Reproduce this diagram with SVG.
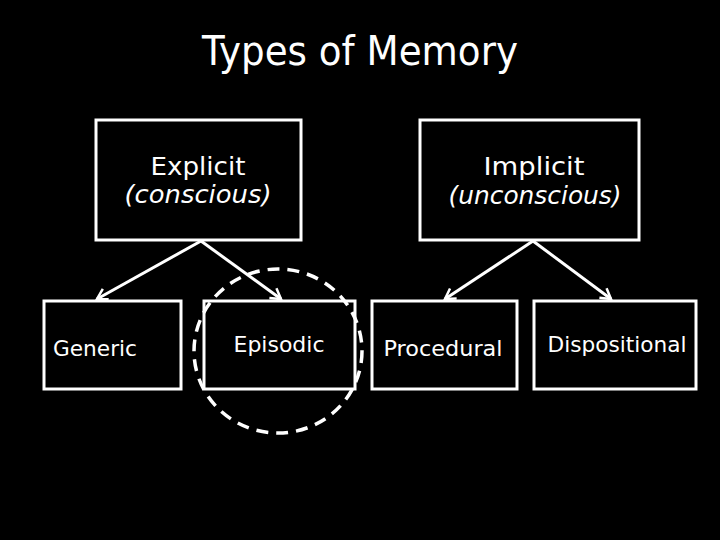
<svg xmlns="http://www.w3.org/2000/svg" width="720" height="540" viewBox="0 0 720 540">
<style>
.box{fill:#000;stroke:#fff;stroke-width:3}
.t{fill:#fff;font-family:"DejaVu Sans","Liberation Sans",sans-serif;text-anchor:middle}
.c{stroke:#fff;stroke-width:3;fill:none}
</style>
<defs>
<marker id="ah" markerUnits="userSpaceOnUse" markerWidth="16" markerHeight="16" refX="12" refY="8" orient="auto">
<path d="M2,2 L12,8 L2,14" fill="none" stroke="#fff" stroke-width="2.5"/>
</marker>
</defs>
<rect width="720" height="540" fill="#000"/>
<text class="t" x="360" y="65" font-size="40" textLength="316" lengthAdjust="spacingAndGlyphs">Types of Memory</text>
<g id="explicit">
<rect class="box" x="96" y="120" width="205" height="120"/>
<text class="t" x="198" y="175" font-size="25" textLength="95" lengthAdjust="spacingAndGlyphs">Explicit</text>
<text class="t" x="198" y="203" font-size="25" font-style="italic" textLength="147" lengthAdjust="spacingAndGlyphs">(conscious)</text>
</g>
<g id="implicit">
<rect class="box" x="420" y="120" width="219" height="120"/>
<text class="t" x="534" y="175" font-size="25" textLength="101" lengthAdjust="spacingAndGlyphs">Implicit</text>
<text class="t" x="535" y="204" font-size="25" font-style="italic" textLength="173" lengthAdjust="spacingAndGlyphs">(unconscious)</text>
</g>
<g id="generic">
<rect class="box" x="44" y="301" width="137" height="88"/>
<text class="t" x="95" y="356" font-size="22" textLength="84" lengthAdjust="spacingAndGlyphs">Generic</text>
</g>
<g id="episodic">
<rect class="box" x="204" y="301" width="151" height="88"/>
<text class="t" x="279" y="352" font-size="22" textLength="91" lengthAdjust="spacingAndGlyphs">Episodic</text>
</g>
<g id="procedural">
<rect class="box" x="372" y="301" width="145" height="88"/>
<text class="t" x="443" y="356" font-size="22" textLength="119" lengthAdjust="spacingAndGlyphs">Procedural</text>
</g>
<g id="dispositional">
<rect class="box" x="534" y="301" width="162" height="88"/>
<text class="t" x="617" y="352" font-size="22" textLength="139" lengthAdjust="spacingAndGlyphs">Dispositional</text>
</g>
<g id="connectors">
<line class="c" x1="201" y1="241" x2="97" y2="299" marker-end="url(#ah)"/>
<line class="c" x1="201" y1="241" x2="281" y2="299" marker-end="url(#ah)"/>
<line class="c" x1="533" y1="241" x2="445" y2="299" marker-end="url(#ah)"/>
<line class="c" x1="533" y1="241" x2="611" y2="299" marker-end="url(#ah)"/>
</g>
<g id="highlight">
<ellipse cx="278" cy="351" rx="84" ry="82" fill="none" stroke="#fff" stroke-width="3.5" stroke-dasharray="12,8"/>
</g>
</svg>
